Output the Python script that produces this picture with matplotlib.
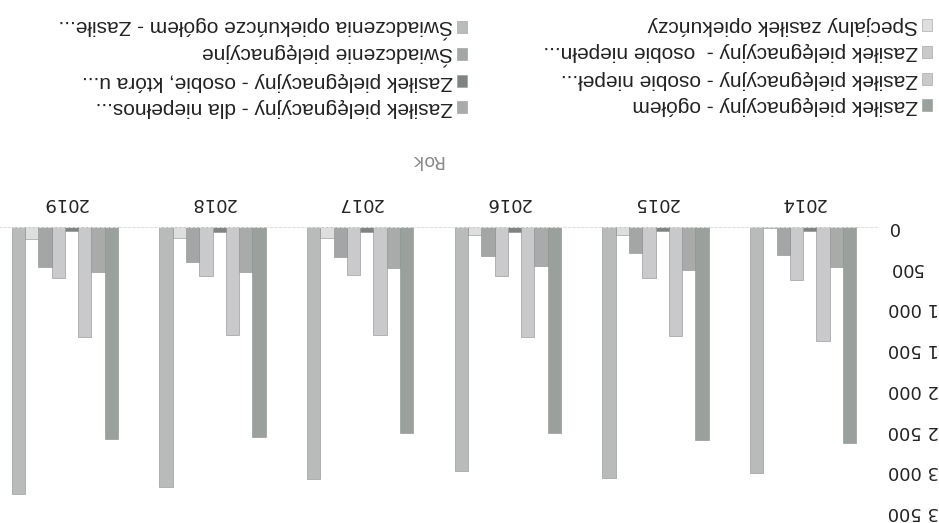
import matplotlib
matplotlib.use("Agg")
import matplotlib.pyplot as plt
import matplotlib.patches as mpatches
import numpy as np

# Data
years = ['2014', '2015', '2016', '2017', '2018', '2019']
zp_ogolem = [2658, 2612, 2524, 2528, 2575, 2603]
zp_dziecko = [486, 527, 474, 498, 547, 555]
zp_znaczny = [1405, 1344, 1345, 1323, 1328, 1350]
zp_75lat = [45, 50, 60, 60, 65, 55]
zp_umiark = [650, 629, 596, 588, 596, 629]
sw_pielegn = [343, 323, 351, 372, 433, 486]
specjalny = [10, 100, 100, 130, 130, 150]
sw_ogolem = [3018, 3079, 2997, 3100, 3189, 3283]

series = [zp_ogolem, zp_dziecko, zp_znaczny, zp_75lat,
          zp_umiark, sw_pielegn, specjalny, sw_ogolem]
labels = [
    'Zasiłek pielęgnacyjny - ogółem',
    'Zasiłek pielęgnacyjny - dla niepełnos...',
    'Zasiłek pielęgnacyjny - osobie niepeł...',
    'Zasiłek pielęgnacyjny - osobie, która u...',
    'Zasiłek pielęgnacyjny -  osobie niepełn...',
    'Świadczenie pielęgnacyjne',
    'Specjalny zasiłek opiekuńczy',
    'Świadczenia opiekuńcze ogółem - Zasiłe...',
]
colors = ['#9aa19d', '#a9abaa', '#c9c9cb', '#7f8482',
          '#cacacd', '#a3a6a5', '#dedede', '#b8bbba']
yticks = [0, 500, 1000, 1500, 2000, 2500, 3000, 3500]
ytick_labels = ['0', '500', '1 000', '1 500', '2 000', '2 500', '3 000', '3 500']

W, H = 939, 523
fig = plt.figure(figsize=(W / 100, H / 100), dpi=100)
fig.patch.set_facecolor('white')

# the scan is upside down: axes drawn with both directions flipped
ax = fig.add_axes([-9 / W, 11 / H, 886 / W, 285 / H])
x = np.arange(len(years))
bw = 0.09
for i, (vals, col) in enumerate(zip(series, colors)):
    ax.bar(x + (i - 3.5) * bw, vals, bw, color=col,
           edgecolor='#8a8d8c', linewidth=0.4)

ax.set_xlim(len(years) - 0.5, -0.5)
ax.set_ylim(3500, 0)
ax.set_xticks(x)
ax.set_xticklabels(years)
ax.set_yticks(yticks)
ax.set_yticklabels(ytick_labels)
ax.xaxis.tick_top()
ax.yaxis.tick_right()
ax.tick_params(length=0, colors='#222222')
ax.tick_params(axis='x', pad=11, labelsize=13)
ax.tick_params(axis='y', pad=8, labelsize=13)
for t in ax.get_xticklabels():
    t.set_rotation(180)
for t in ax.get_yticklabels():
    t.set_rotation(180)
    t.set_va('center')
for s in ['left', 'right', 'bottom']:
    ax.spines[s].set_visible(False)
ax.spines['top'].set_color('#e0e0e0')
ax.spines['top'].set_linewidth(0.8)
ax.spines['top'].set_linestyle((0, (2, 2)))

# axis title
fig.text(427 / W, 1 - 160 / H, 'Rok', rotation=180, ha='center', va='center',
         fontsize=13, color='#8a8a8a')

# legend (two columns, upside down)
col_x = [922 / W, 457 / W]
row_y = [105, 79, 52, 25]
for k, (lab, col) in enumerate(zip(labels, colors)):
    c = k % 2
    r = k // 2
    yy = 1 - (row_y[r] + 2 * c) / H
    fig.patches.append(mpatches.Rectangle((col_x[c], yy - 6 / H), 10 / W, 12 / H,
                                          facecolor=col, edgecolor='#9a9a9a',
                                          linewidth=0.4, transform=fig.transFigure))
    fig.text(col_x[c] - 4 / W, yy, lab, rotation=180, ha='right', va='center',
             fontsize=15, color='#222222', family='Liberation Sans')

fig.savefig('out.png', dpi=100)
